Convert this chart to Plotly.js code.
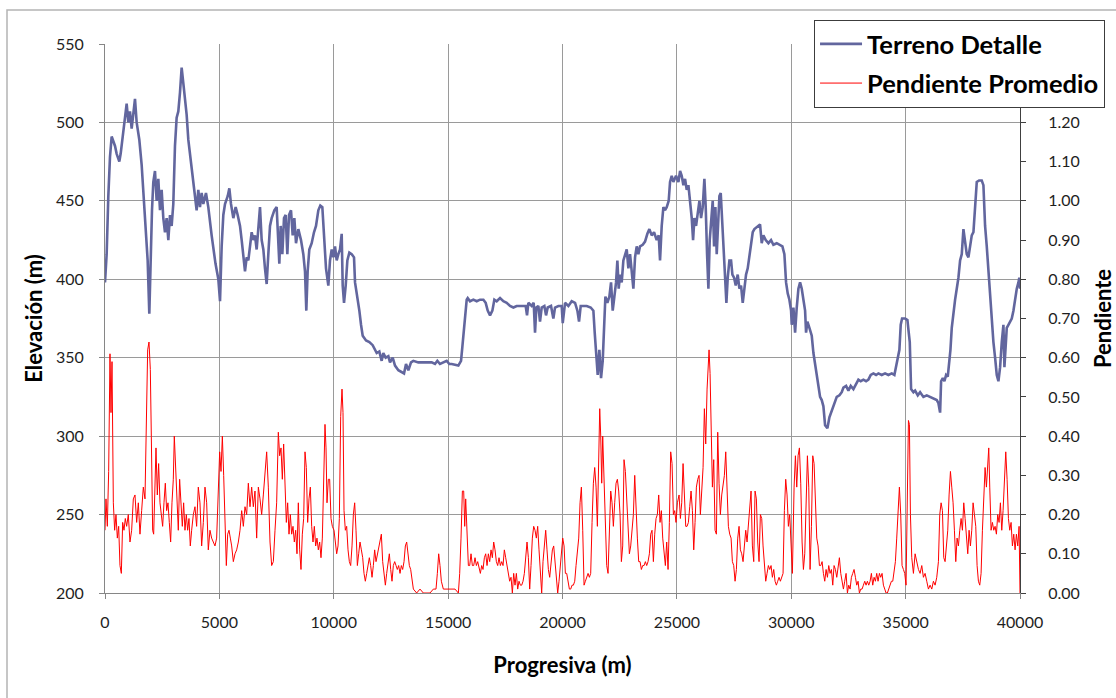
<!DOCTYPE html>
<html>
<head>
<meta charset="utf-8">
<script src="https://cdn.plot.ly/plotly-3.0.1.min.js"></script>
<style>
  html, body { margin: 0; padding: 0; background: #ffffff; }
  #chart { width: 1116px; height: 698px; }
</style>
</head>
<body>
<div id="chart"></div>
<script>
// Terrain profile: [progresiva (m), elevación (m)]
const terrainProfile = [
  [0,398],[40,405],[72,416],[145,453],[218,478],[291,491],[437,485],[510,480],[626,475],[684,480],
  [772,491],[874,503],[947,512],[1019,500],[1092,507],[1165,496],[1238,507],[1311,515],[1384,500],[1500,489],
  [1602,473],[1704,448],[1792,430],[1865,412],[1937,378],[1996,416],[2054,444],[2112,462],[2185,469],[2258,450],
  [2331,464],[2404,444],[2476,457],[2549,439],[2622,430],[2695,439],[2768,425],[2841,441],[2914,434],[2986,448],
  [3059,485],[3132,503],[3205,507],[3278,519],[3351,535],[3424,525],[3496,516],[3569,505],[3642,489],[3715,480],
  [3831,466],[3933,453],[4006,444],[4079,457],[4152,446],[4225,455],[4298,448],[4414,455],[4516,446],[4662,428],
  [4735,420],[4830,410],[4955,400],[5028,386],[5100,421],[5173,441],[5246,448],[5363,453],[5436,458],[5508,448],
  [5610,439],[5712,446],[5800,441],[5902,434],[5975,425],[6048,416],[6120,405],[6193,414],[6266,412],[6339,421],
  [6412,430],[6484,425],[6557,428],[6630,419],[6703,434],[6776,446],[6849,425],[6922,419],[6994,407],[7067,397],
  [7140,416],[7213,434],[7286,439],[7402,444],[7504,446],[7577,425],[7621,410],[7679,434],[7752,416],[7825,439],
  [7898,441],[7971,416],[8044,441],[8131,444],[8204,428],[8277,439],[8350,423],[8452,432],[8568,425],[8670,416],
  [8743,405],[8801,380],[8859,405],[8932,419],[9035,423],[9136,430],[9224,434],[9326,444],[9413,447],[9501,446],
  [9588,425],[9661,407],[9763,396],[9836,412],[9910,419],[9983,414],[10056,421],[10128,412],[10201,416],[10274,419],
  [10347,429],[10391,396],[10449,385],[10522,396],[10595,412],[10682,417],[10784,416],[10886,414],[10930,398],[11032,389],
  [11119,380],[11192,371],[11265,364],[11411,361],[11556,360],[11702,358],[11804,355],[11877,353],[11993,354],[12095,348],
  [12168,353],[12270,350],[12387,351],[12460,347],[12576,350],[12678,345],[12824,342],[12970,341],[13072,340],[13159,346],
  [13261,342],[13378,347],[13480,348],[13698,347],[13990,347],[14281,347],[14427,346],[14529,348],[14645,346],[14791,347],
  [14937,348],[15053,346],[15156,346],[15448,345],[15564,348],[15623,357],[15681,366],[15739,375],[15812,387],[15856,388],
  [15958,386],[16103,387],[16249,386],[16395,387],[16541,387],[16642,385],[16730,380],[16832,377],[16934,380],[17021,387],
  [17123,386],[17269,388],[17415,386],[17560,385],[17706,383],[17852,382],[17998,383],[18144,383],[18289,383],[18391,383],
  [18449,377],[18508,385],[18653,383],[18741,385],[18799,366],[18857,382],[18945,383],[19017,373],[19090,382],[19207,383],
  [19280,377],[19353,382],[19498,383],[19600,375],[19673,382],[19819,383],[19965,383],[20010,372],[20112,385],[20257,383],
  [20403,386],[20549,385],[20651,380],[20723,373],[20796,383],[20913,383],[21059,383],[21233,382],[21350,380],[21408,366],
  [21467,353],[21539,339],[21612,355],[21685,337],[21758,348],[21816,375],[21875,389],[21962,385],[22049,389],[22122,398],
  [22195,380],[22268,389],[22341,398],[22399,412],[22457,394],[22516,403],[22588,398],[22661,412],[22734,416],[22807,419],
  [22880,407],[22953,416],[23026,405],[23098,394],[23171,414],[23244,421],[23317,416],[23390,421],[23506,422],[23608,424],
  [23710,429],[23798,432],[23900,428],[24002,430],[24118,425],[24206,428],[24264,412],[24337,434],[24410,446],[24483,444],
  [24555,446],[24643,450],[24701,462],[24774,466],[24847,462],[24963,466],[25067,462],[25140,469],[25212,466],[25285,460],
  [25358,464],[25431,457],[25504,460],[25577,450],[25650,439],[25708,425],[25766,439],[25839,434],[25912,441],[25985,450],
  [26057,439],[26130,446],[26203,464],[26261,446],[26320,416],[26378,394],[26436,425],[26495,439],[26567,450],[26626,421],
  [26684,446],[26742,416],[26801,434],[26859,453],[26917,455],[26975,439],[27048,425],[27107,407],[27165,385],[27223,401],
  [27296,412],[27369,412],[27427,403],[27500,401],[27573,396],[27660,403],[27733,394],[27806,396],[27879,385],[27952,394],
  [28024,403],[28097,407],[28170,416],[28243,423],[28316,430],[28389,432],[28491,433],[28564,434],[28636,435],[28709,423],
  [28782,428],[28884,425],[29001,423],[29117,425],[29219,422],[29365,423],[29511,422],[29613,421],[29700,416],[29773,398],
  [29846,391],[29919,387],[29992,380],[30022,371],[30095,382],[30168,366],[30240,382],[30313,394],[30386,398],[30459,394],
  [30532,387],[30605,380],[30648,366],[30707,373],[30794,369],[30896,364],[30969,353],[31042,344],[31115,339],[31188,332],
  [31260,325],[31333,323],[31406,319],[31479,307],[31581,305],[31668,312],[31771,316],[31872,321],[31989,325],[32106,326],
  [32207,328],[32280,331],[32397,332],[32499,329],[32601,332],[32717,330],[32834,333],[32936,336],[33038,335],[33154,336],
  [33271,335],[33373,336],[33475,339],[33591,340],[33708,339],[33810,340],[33956,339],[34102,340],[34247,339],[34393,340],
  [34509,339],[34582,344],[34655,348],[34728,355],[34786,371],[34845,375],[34976,375],[35078,374],[35136,366],[35181,360],
  [35239,330],[35341,328],[35414,329],[35531,326],[35633,328],[35778,325],[35924,326],[36070,325],[36215,324],[36361,323],
  [36434,321],[36507,315],[36551,335],[36624,337],[36696,335],[36769,339],[36842,338],[36915,348],[36959,355],[37017,369],
  [37090,380],[37163,387],[37235,394],[37308,401],[37381,412],[37454,416],[37527,432],[37600,425],[37672,416],[37745,414],
  [37818,423],[37891,428],[37964,430],[38037,448],[38110,462],[38212,463],[38328,463],[38401,460],[38474,434],[38547,421],
  [38620,405],[38693,394],[38766,380],[38838,360],[38911,350],[38984,339],[39057,335],[39130,344],[39203,360],[39275,371],
  [39319,344],[39377,360],[39421,369],[39494,371],[39567,373],[39640,375],[39713,380],[39786,389],[39859,394],[39932,398],
  [39970,401],[40000,394]
];

// Average slope: [progresiva (m), pendiente]
const slopeProfile = [
  [0,0.16],[43,0.24],[102,0.17],[160,0.31],[218,0.61],[262,0.46],[306,0.59],[364,0.23],[422,0.16],[480,0.20],
  [539,0.14],[597,0.17],[655,0.07],[714,0.05],[772,0.18],[830,0.16],[888,0.19],[947,0.17],[1019,0.20],[1092,0.13],
  [1165,0.16],[1238,0.24],[1311,0.25],[1384,0.18],[1457,0.23],[1529,0.15],[1602,0.21],[1675,0.27],[1748,0.24],[1821,0.50],
  [1865,0.62],[1923,0.64],[1981,0.57],[2025,0.40],[2083,0.16],[2127,0.15],[2171,0.27],[2229,0.37],[2287,0.25],[2345,0.33],
  [2404,0.23],[2462,0.20],[2520,0.17],[2578,0.23],[2637,0.28],[2695,0.21],[2753,0.23],[2811,0.18],[2870,0.13],[2928,0.23],
  [2986,0.29],[3030,0.40],[3088,0.32],[3147,0.21],[3205,0.16],[3263,0.29],[3321,0.24],[3380,0.17],[3438,0.23],[3496,0.16],
  [3555,0.20],[3613,0.16],[3671,0.19],[3729,0.12],[3788,0.16],[3861,0.20],[3933,0.22],[4006,0.17],[4079,0.27],[4152,0.23],
  [4225,0.12],[4298,0.18],[4371,0.27],[4444,0.23],[4516,0.11],[4589,0.16],[4662,0.14],[4735,0.13],[4808,0.12],[4881,0.14],
  [4953,0.27],[5013,0.36],[5071,0.31],[5130,0.40],[5188,0.30],[5246,0.18],[5304,0.07],[5363,0.15],[5421,0.16],[5479,0.14],
  [5537,0.12],[5610,0.08],[5683,0.10],[5756,0.11],[5829,0.13],[5902,0.16],[5975,0.21],[6048,0.17],[6120,0.22],[6193,0.20],
  [6266,0.28],[6339,0.22],[6412,0.27],[6484,0.22],[6557,0.26],[6630,0.14],[6703,0.27],[6776,0.24],[6849,0.20],[6922,0.25],
  [6994,0.31],[7067,0.36],[7140,0.27],[7213,0.13],[7286,0.07],[7359,0.08],[7432,0.16],[7504,0.23],[7577,0.41],[7636,0.35],
  [7694,0.37],[7752,0.29],[7810,0.38],[7869,0.27],[7927,0.18],[7985,0.23],[8044,0.15],[8102,0.20],[8160,0.15],[8218,0.17],
  [8277,0.13],[8335,0.16],[8393,0.10],[8452,0.23],[8510,0.11],[8568,0.06],[8626,0.15],[8685,0.19],[8743,0.36],[8801,0.32],
  [8859,0.18],[8918,0.24],[8976,0.27],[9035,0.17],[9093,0.13],[9151,0.17],[9209,0.12],[9267,0.14],[9326,0.11],[9384,0.13],
  [9442,0.09],[9501,0.14],[9559,0.27],[9617,0.43],[9661,0.37],[9705,0.23],[9763,0.29],[9821,0.29],[9880,0.19],[9938,0.17],
  [10012,0.16],[10070,0.12],[10128,0.10],[10187,0.12],[10245,0.19],[10303,0.45],[10361,0.52],[10405,0.46],[10449,0.21],[10507,0.16],
  [10565,0.17],[10624,0.11],[10682,0.08],[10740,0.07],[10799,0.12],[10857,0.20],[10915,0.23],[10973,0.16],[11032,0.07],[11090,0.10],
  [11148,0.13],[11207,0.11],[11265,0.09],[11323,0.05],[11381,0.03],[11440,0.05],[11498,0.07],[11556,0.09],[11614,0.07],[11673,0.04],
  [11731,0.07],[11789,0.11],[11848,0.08],[11906,0.10],[11964,0.12],[12023,0.14],[12081,0.15],[12139,0.08],[12197,0.05],[12256,0.02],
  [12314,0.05],[12372,0.08],[12430,0.10],[12489,0.06],[12547,0.03],[12605,0.07],[12664,0.08],[12722,0.07],[12780,0.06],[12838,0.07],
  [12897,0.05],[12955,0.07],[13013,0.06],[13072,0.08],[13130,0.12],[13188,0.13],[13246,0.10],[13305,0.07],[13363,0.06],[13421,0.03],
  [13480,0.01],[13625,0.00],[13771,0.01],[13917,0.00],[14063,0.00],[14208,0.00],[14354,0.01],[14470,0.01],[14529,0.05],[14587,0.10],
  [14645,0.07],[14704,0.03],[14791,0.01],[14937,0.01],[15053,0.01],[15156,0.01],[15302,0.01],[15448,0.00],[15506,0.05],[15564,0.14],
  [15623,0.26],[15681,0.26],[15725,0.17],[15768,0.24],[15827,0.14],[15885,0.07],[15943,0.07],[16001,0.10],[16060,0.07],[16118,0.07],
  [16176,0.09],[16235,0.07],[16293,0.08],[16351,0.06],[16409,0.05],[16468,0.07],[16526,0.06],[16584,0.09],[16642,0.10],[16701,0.07],
  [16759,0.10],[16817,0.08],[16876,0.11],[16934,0.09],[16992,0.13],[17050,0.11],[17109,0.08],[17167,0.07],[17225,0.09],[17284,0.07],
  [17342,0.08],[17400,0.07],[17458,0.11],[17517,0.09],[17575,0.07],[17633,0.05],[17691,0.03],[17750,0.04],[17808,0.00],[17866,0.05],
  [17925,0.02],[17983,0.05],[18041,0.01],[18099,0.03],[18158,0.02],[18216,0.02],[18274,0.03],[18333,0.05],[18391,0.10],[18449,0.13],
  [18508,0.09],[18566,0.01],[18624,0.07],[18682,0.14],[18741,0.17],[18799,0.16],[18857,0.14],[18915,0.17],[18974,0.11],[19032,0.04],
  [19090,0.00],[19148,0.08],[19207,0.12],[19265,0.16],[19323,0.11],[19382,0.06],[19440,0.04],[19498,0.07],[19557,0.11],[19615,0.12],
  [19673,0.08],[19732,0.05],[19790,0.00],[19848,0.03],[19906,0.07],[19965,0.10],[20010,0.14],[20068,0.12],[20126,0.05],[20184,0.05],
  [20243,0.03],[20301,0.01],[20359,0.01],[20418,0.02],[20476,0.02],[20534,0.03],[20592,0.07],[20651,0.10],[20709,0.14],[20767,0.23],
  [20826,0.27],[20884,0.16],[20942,0.02],[21000,0.03],[21059,0.04],[21117,0.05],[21175,0.04],[21233,0.05],[21292,0.18],[21350,0.28],
  [21408,0.32],[21467,0.27],[21525,0.17],[21583,0.34],[21627,0.47],[21671,0.40],[21714,0.28],[21758,0.40],[21816,0.30],[21875,0.20],
  [21933,0.07],[21991,0.05],[22049,0.14],[22108,0.26],[22166,0.23],[22224,0.17],[22282,0.23],[22341,0.28],[22399,0.29],[22457,0.26],
  [22516,0.20],[22574,0.08],[22632,0.12],[22690,0.34],[22749,0.31],[22807,0.23],[22865,0.14],[22924,0.10],[22982,0.12],[23040,0.16],
  [23098,0.20],[23157,0.30],[23215,0.21],[23273,0.14],[23331,0.08],[23390,0.08],[23448,0.06],[23506,0.07],[23565,0.07],[23623,0.08],
  [23681,0.07],[23739,0.08],[23798,0.10],[23856,0.15],[23914,0.16],[23973,0.08],[24031,0.15],[24089,0.19],[24147,0.20],[24206,0.25],
  [24264,0.18],[24322,0.21],[24381,0.14],[24439,0.11],[24497,0.07],[24555,0.13],[24614,0.06],[24672,0.18],[24730,0.36],[24789,0.33],
  [24847,0.20],[24905,0.21],[24963,0.18],[25022,0.23],[25096,0.25],[25154,0.19],[25212,0.23],[25271,0.33],[25329,0.23],[25387,0.17],
  [25445,0.17],[25504,0.18],[25562,0.22],[25620,0.26],[25679,0.21],[25737,0.11],[25795,0.18],[25853,0.27],[25912,0.29],[25970,0.30],
  [26028,0.20],[26087,0.27],[26145,0.32],[26203,0.47],[26261,0.38],[26320,0.52],[26378,0.59],[26407,0.62],[26451,0.56],[26495,0.45],
  [26553,0.27],[26611,0.34],[26669,0.16],[26728,0.15],[26786,0.41],[26844,0.28],[26902,0.20],[26961,0.25],[27019,0.27],[27077,0.30],
  [27136,0.36],[27194,0.24],[27252,0.17],[27310,0.15],[27369,0.14],[27427,0.08],[27485,0.07],[27544,0.03],[27602,0.06],[27660,0.14],
  [27718,0.17],[27777,0.11],[27835,0.10],[27893,0.08],[27952,0.12],[28010,0.16],[28068,0.13],[28126,0.17],[28185,0.23],[28243,0.26],
  [28301,0.12],[28360,0.08],[28418,0.26],[28476,0.24],[28534,0.13],[28593,0.08],[28651,0.20],[28709,0.19],[28767,0.12],[28826,0.07],
  [28884,0.03],[28942,0.05],[29001,0.07],[29059,0.06],[29117,0.07],[29175,0.04],[29234,0.06],[29292,0.03],[29350,0.02],[29409,0.03],
  [29467,0.04],[29525,0.03],[29583,0.04],[29642,0.05],[29700,0.21],[29758,0.29],[29817,0.25],[29875,0.17],[29933,0.20],[29992,0.10],
  [30050,0.05],[30124,0.27],[30182,0.35],[30240,0.27],[30299,0.35],[30357,0.37],[30415,0.28],[30474,0.13],[30532,0.06],[30590,0.10],
  [30648,0.24],[30707,0.35],[30765,0.27],[30823,0.06],[30882,0.17],[30940,0.35],[30998,0.33],[31056,0.23],[31115,0.14],[31173,0.12],
  [31231,0.07],[31289,0.07],[31348,0.08],[31406,0.05],[31464,0.03],[31523,0.06],[31581,0.04],[31639,0.07],[31697,0.05],[31756,0.06],
  [31814,0.02],[31872,0.07],[31931,0.06],[31989,0.04],[32047,0.07],[32105,0.09],[32164,0.05],[32222,0.03],[32280,0.01],[32338,0.03],
  [32397,0.05],[32455,0.00],[32513,0.02],[32572,0.01],[32630,0.04],[32688,0.05],[32746,0.06],[32805,0.04],[32863,0.02],[32921,0.03],
  [32980,0.00],[33038,0.01],[33096,0.01],[33154,0.02],[33213,0.03],[33271,0.02],[33329,0.03],[33388,0.02],[33446,0.03],[33504,0.05],
  [33562,0.02],[33621,0.04],[33679,0.03],[33737,0.05],[33795,0.03],[33854,0.05],[33912,0.04],[33970,0.05],[34029,0.02],[34087,0.01],
  [34145,0.00],[34203,0.00],[34262,0.01],[34320,0.02],[34378,0.03],[34437,0.03],[34495,0.05],[34553,0.08],[34611,0.14],[34670,0.21],
  [34728,0.27],[34786,0.20],[34844,0.07],[34903,0.06],[34961,0.05],[35019,0.02],[35078,0.28],[35123,0.44],[35166,0.43],[35210,0.20],
  [35268,0.09],[35341,0.05],[35414,0.10],[35487,0.08],[35560,0.06],[35633,0.05],[35706,0.07],[35778,0.04],[35851,0.05],[35924,0.03],
  [35997,0.01],[36070,0.02],[36143,0.01],[36215,0.03],[36288,0.02],[36361,0.04],[36434,0.08],[36492,0.20],[36551,0.23],[36609,0.21],
  [36667,0.09],[36725,0.08],[36784,0.12],[36842,0.16],[36900,0.25],[36959,0.31],[37017,0.27],[37075,0.23],[37133,0.16],[37192,0.08],
  [37250,0.14],[37308,0.12],[37366,0.16],[37425,0.19],[37483,0.16],[37541,0.23],[37600,0.19],[37658,0.13],[37716,0.10],[37774,0.16],
  [37833,0.12],[37891,0.16],[37949,0.23],[38008,0.20],[38066,0.17],[38124,0.07],[38182,0.03],[38241,0.02],[38299,0.05],[38357,0.16],
  [38416,0.27],[38474,0.32],[38532,0.27],[38590,0.32],[38634,0.37],[38678,0.27],[38736,0.16],[38794,0.18],[38853,0.16],[38911,0.17],
  [38969,0.15],[39027,0.20],[39086,0.18],[39144,0.23],[39202,0.16],[39260,0.21],[39319,0.27],[39377,0.36],[39435,0.29],[39494,0.19],
  [39552,0.16],[39610,0.18],[39668,0.12],[39727,0.15],[39785,0.11],[39843,0.15],[39901,0.12],[39960,0.17],[40000,0.00]
];

const seriesNames = ['Terreno Detalle', 'Pendiente Promedio'];
const elevTicks = [200, 250, 300, 350, 400, 450, 500, 550];
const distTicks = [0, 5000, 10000, 15000, 20000, 25000, 30000, 35000, 40000];
// right-hand scale runs to 1.40 at the top; labels stop at 1.20 below the legend
const slopeTicks = [0, 0.1, 0.2, 0.3, 0.4, 0.5, 0.6, 0.7, 0.8, 0.9, 1.0, 1.1, 1.2];

const FONT = 'Lato, "Open Sans", sans-serif';
const INK = '#1e1e1e';
const GRID = '#9a9a9a';

const traces = [
  {
    type: 'scatter', mode: 'lines', name: seriesNames[0], legendgroup: 'a',
    x: terrainProfile.map(p => p[0]), y: terrainProfile.map(p => p[1]),
    line: { color: '#62669e', width: 2.6 }, yaxis: 'y', hoverinfo: 'skip'
  },
  {
    type: 'scatter', mode: 'lines', name: seriesNames[1], legendgroup: 'b',
    x: slopeProfile.map(p => p[0]), y: slopeProfile.map(p => p[1]),
    line: { color: '#ff0000', width: 1 }, yaxis: 'y2', hoverinfo: 'skip'
  }
];

const layout = {
  width: 1116, height: 698,
  margin: { l: 105, r: 96, t: 44, b: 105, pad: 0, autoexpand: false },
  paper_bgcolor: '#ffffff', plot_bgcolor: '#ffffff',
  font: { family: FONT, color: INK, size: 16 },
  showlegend: true,
  legend: {
    x: 0.7749, xanchor: 'left', y: 1.044, yanchor: 'top',
    bgcolor: '#ffffff', bordercolor: '#3c3c3c', borderwidth: 1,
    font: { family: FONT, size: 25.5, color: '#000000', weight: 'bold' },
    traceorder: 'grouped', tracegroupgap: 3, itemwidth: 42
  },
  xaxis: {
    range: [0, 40000], tickvals: distTicks, ticktext: distTicks.map(String),
    showgrid: true, gridcolor: GRID, gridwidth: 1,
    showline: true, linecolor: '#868686', linewidth: 1, mirror: false,
    ticks: 'outside', ticklen: 5, tickcolor: '#868686', ticklabelstandoff: 10,
    tickfont: { family: FONT, size: 16, color: INK }, zeroline: false,
    title: { text: 'Progresiva (m)', font: { family: FONT, size: 22, color: '#000000', weight: 'bold' }, standoff: 27 },
    automargin: false
  },
  yaxis: {
    range: [200, 550], tickvals: elevTicks, ticktext: elevTicks.map(String),
    showgrid: true, gridcolor: GRID, gridwidth: 1,
    showline: true, linecolor: '#868686', linewidth: 1,
    ticks: 'outside', ticklen: 5, tickcolor: '#868686', ticklabelstandoff: 12,
    tickfont: { family: FONT, size: 16, color: INK }, zeroline: false,
    title: { text: 'Elevación (m)', font: { family: FONT, size: 22, color: '#000000', weight: 'bold' }, standoff: 7 },
    automargin: false
  },
  yaxis2: {
    overlaying: 'y', side: 'right', range: [0, 1.4],
    tickvals: slopeTicks, ticktext: slopeTicks.map(v => v.toFixed(2)),
    showgrid: false, showline: true, linecolor: '#404040', linewidth: 1,
    ticks: 'outside', ticklen: 5, tickcolor: '#404040', ticklabelstandoff: 19,
    tickfont: { family: FONT, size: 16, color: INK }, zeroline: false,
    title: { text: 'Pendiente', font: { family: FONT, size: 22, color: '#000000', weight: 'bold' }, standoff: 16 },
    automargin: false
  },
  shapes: [
    // outer frame of the chart area
    { type: 'rect', xref: 'paper', yref: 'paper', x0: (7 - 105) / 915, x1: 1.2, y0: -0.3, y1: (593 - 10) / 549,
      line: { color: '#b4b4b4', width: 1.5 }, fillcolor: 'rgba(0,0,0,0)', layer: 'below' }
  ]
};

Plotly.newPlot('chart', traces, layout, { staticPlot: true, displayModeBar: false });
</script>
</body>
</html>
